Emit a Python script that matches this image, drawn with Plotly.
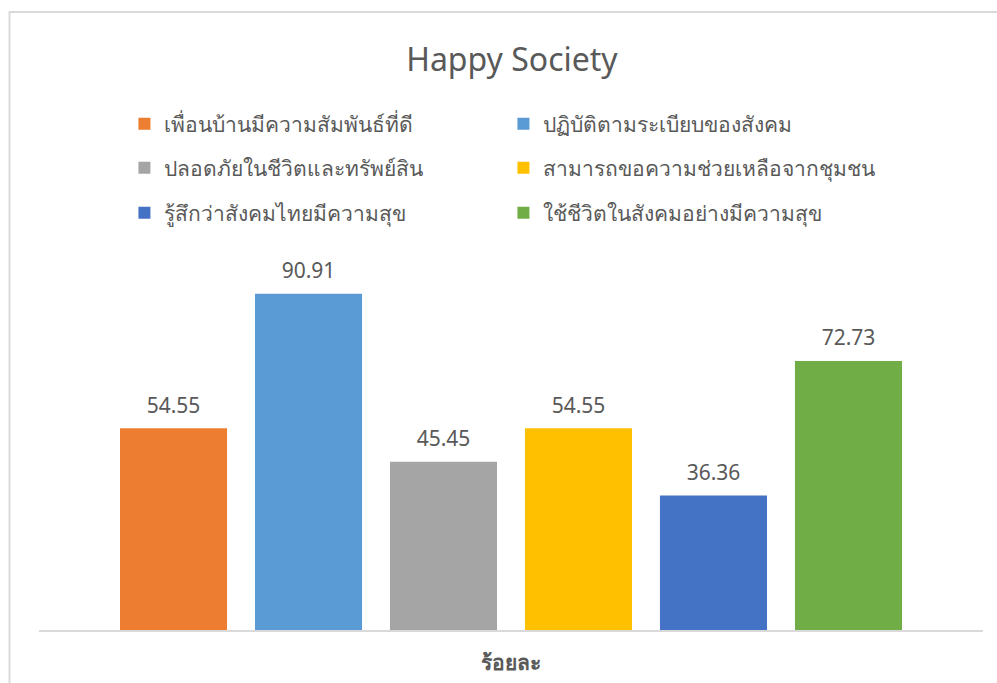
import plotly.graph_objects as go

# data
category = ["ร้อยละ"]
names = [
    "เพื่อนบ้านมีความสัมพันธ์ที่ดี",
    "ปฏิบัติตามระเบียบของสังคม",
    "ปลอดภัยในชีวิตและทรัพย์สิน",
    "สามารถขอความช่วยเหลือจากชุมชน",
    "รู้สึกว่าสังคมไทยมีความสุข",
    "ใช้ชีวิตในสังคมอย่างมีความสุข",
]
values = [54.55, 90.91, 45.45, 54.55, 36.36, 72.73]
colors = ["#ED7D31", "#5B9BD5", "#A5A5A5", "#FFC000", "#4472C4", "#70AD47"]
legend_ids = ["legend", "legend", "legend2", "legend2", "legend3", "legend3"]

FONT = "Noto Sans, Open Sans, sans-serif"
GREY = "#595959"

fig = go.Figure()

for name, val, col, lg in zip(names, values, colors, legend_ids):
    fig.add_trace(
        go.Bar(
            x=category,
            y=[val],
            name=name,
            marker=dict(color=col, line=dict(width=0)),
            text=[f"{val:.2f}"],
            texttemplate="<span style='font-size:21px'>%{text}</span><br> ",
            textposition="outside",
            cliponaxis=False,
            textfont=dict(size=8, color=GREY, family=FONT),
            legend=lg,
        )
    )

leg = dict(
    orientation="h",
    xanchor="left",
    x=0.0905,
    yanchor="middle",
    entrywidth=334,
    font=dict(size=21, color=GREY, family=FONT),
    bgcolor="rgba(0,0,0,0)",
    itemclick=False,
)

fig.update_layout(
    width=997,
    height=683,
    margin=dict(l=39, r=14, t=260, b=53, autoexpand=False),
    paper_bgcolor="white",
    plot_bgcolor="white",
    barmode="group",
    bargap=0.142,
    bargroupgap=0.207,
    title=dict(
        text="Happy Society",
        x=0.5135,
        xanchor="center",
        y=0.912,
        yanchor="middle",
        font=dict(size=32, color=GREY, family=FONT),
    ),
    legend=dict(leg, y=(630 - 124) / 370),
    legend2=dict(leg, y=(630 - 168) / 370),
    legend3=dict(leg, y=(630 - 213) / 370),
    xaxis=dict(
        showline=True,
        linecolor="#D9D9D9",
        linewidth=2,
        ticks="",
        automargin=False,
        ticklabelstandoff=13,
        tickfont=dict(size=21, color=GREY, family=FONT, weight="bold"),
    ),
    yaxis=dict(
        range=[0, 100],
        visible=False,
        showgrid=False,
        automargin=False,
    ),
    shapes=[
        dict(
            type="rect",
            xref="paper",
            yref="paper",
            x0=(9.5 - 39) / 944,
            x1=1.05,
            y0=-0.3,
            y1=(630 - 12) / 370,
            line=dict(color="#D9D9D9", width=2),
            fillcolor="rgba(0,0,0,0)",
            layer="below",
        )
    ],
)

fig.write_html(
    "out.html",
    config={"displayModeBar": False},
    post_script="document.body.style.margin='0';",
)
